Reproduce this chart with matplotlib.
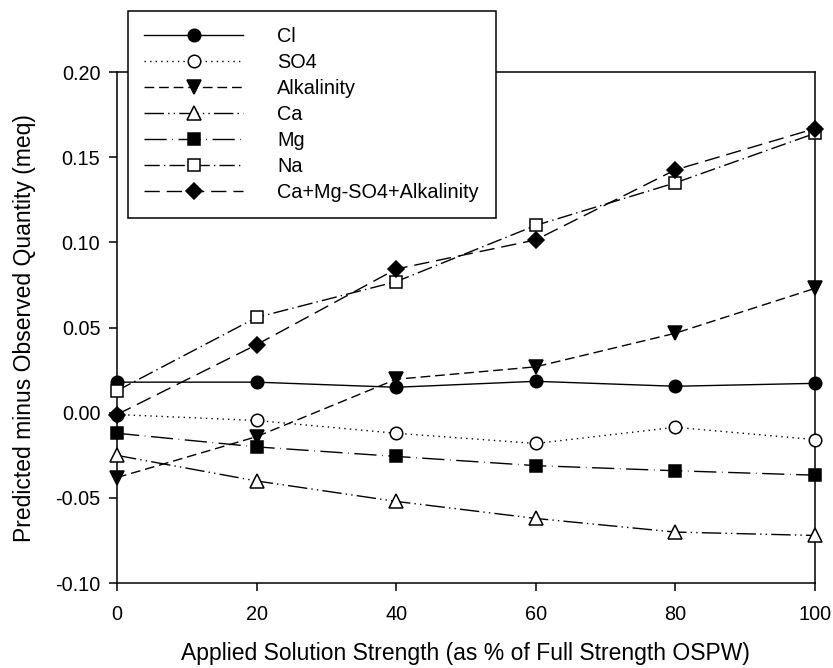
import matplotlib
matplotlib.use("Agg")
import matplotlib.pyplot as plt

plt.rcParams["font.family"] = ["Liberation Sans", "DejaVu Sans"]

# Data
strength = [0, 20, 40, 60, 80, 100]
cl = [0.018, 0.018, 0.015, 0.0185, 0.0156, 0.0173]
so4 = [-0.001, -0.0045, -0.012, -0.018, -0.0085, -0.0157]
alkalinity = [-0.038, -0.014, 0.0197, 0.027, 0.0467, 0.073]
ca = [-0.025, -0.040, -0.052, -0.062, -0.070, -0.072]
mg = [-0.012, -0.020, -0.0256, -0.031, -0.034, -0.0366]
na = [0.013, 0.056, 0.077, 0.110, 0.135, 0.164]
combo = [-0.001, 0.040, 0.0844, 0.1015, 0.1426, 0.1668]

labels = ["Cl", "SO4", "Alkalinity", "Ca", "Mg", "Na", "Ca+Mg-SO4+Alkalinity"]
xticks = [0, 20, 40, 60, 80, 100]
yticks = [-0.10, -0.05, 0.00, 0.05, 0.10, 0.15, 0.20]

fig = plt.figure(figsize=(8.33, 6.68), dpi=100)
ax = fig.add_axes([0.1405, 0.127, 0.8375, 0.765])

series = [cl, so4, alkalinity, ca, mg, na, combo]
styles = [
    ("-", "o", "black"),
    ((0, (1, 3)), "o", "white"),
    ((0, (7, 3.5)), "v", "black"),
    ((0, (14, 3, 1, 3, 1, 3)), "^", "white"),
    ((0, (16, 4, 0.5, 4)), "s", "black"),
    ((0, (11, 3, 1, 3)), "s", "white"),
    ((0, (11, 5)), "D", "black"),
]
sizes = [9, 9, 9.5, 9.5, 8.5, 9, 8.5]

for vals, (ls, mk, fc), ms, lab in zip(series, styles, sizes, labels):
    ax.plot(strength, vals, color="black", linestyle=ls, linewidth=1.0,
            marker=mk, markersize=ms, markerfacecolor=fc,
            markeredgecolor="black", markeredgewidth=1.1, label=lab,
            clip_on=False, zorder=3)

ax.set_xlim(0, 100)
ax.set_ylim(-0.10, 0.20)
ax.set_xticks(xticks)
ax.set_xticklabels([str(t) for t in xticks])
ax.set_yticks(yticks)
ax.set_yticklabels(["%.2f" % t for t in yticks])
ax.tick_params(direction="out", length=6, width=1.1, labelsize=14.3, pad=6,
               top=False, right=False)
ax.tick_params(axis="x", pad=10)
for sp in ax.spines.values():
    sp.set_linewidth(1.1)

ax.set_xlabel("Applied Solution Strength (as % of Full Strength OSPW)",
              fontsize=16.5, labelpad=13)
ax.set_ylabel("Predicted minus Observed Quantity (meq)", fontsize=16.5,
              labelpad=14)

leg = fig.legend(loc="upper left",
                 bbox_to_anchor=(0.1537, 0.9835, 0.4417, 0.0),
                 mode="expand", fontsize=14.3, handlelength=5.0,
                 handletextpad=1.7, labelspacing=0.35, borderpad=0.8,
                 borderaxespad=0.0, fancybox=False, framealpha=1,
                 edgecolor="black")
leg.get_frame().set_linewidth(1.1)
leg.set_zorder(10)

plt.savefig("out.png", dpi=100)
